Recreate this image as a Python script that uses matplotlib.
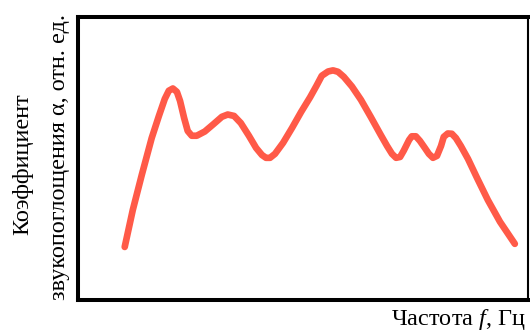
import matplotlib
matplotlib.use("Agg")
import matplotlib.pyplot as plt

plt.rcParams['font.family'] = ['Liberation Serif', 'DejaVu Serif']
plt.rcParams['mathtext.fontset'] = 'custom'
plt.rcParams['mathtext.rm'] = 'Liberation Serif'
plt.rcParams['mathtext.it'] = 'Liberation Serif:italic'

# curve (arbitrary units, 0..100 on both axes)
freq = [10.4, 12.2, 14.2, 16.4, 18.0, 19.3, 20.2, 21.1, 22.0, 22.7, 23.6,
        24.4, 25.3, 26.4, 28.2, 30.2, 32.0, 33.3, 34.7, 36.2, 38.0, 39.6,
        40.9, 41.8, 42.7, 43.8, 45.6, 47.6, 49.6, 51.6, 53.0, 54.2, 55.6,
        56.7, 57.8, 59.1, 60.9, 62.9, 65.1, 67.3, 68.7, 69.8, 70.7, 71.6,
        72.4, 73.6, 74.2, 75.1, 76.0, 77.1, 78.0, 78.9, 79.8, 80.7, 81.3,
        82.2, 83.1, 84.0, 85.1, 86.7, 88.7, 91.1, 93.8, 97.1]
alpha = [18.7, 31.8, 44.2, 57.2, 65.0, 71.0, 73.9, 74.7, 73.5, 70.3, 64.3,
         59.7, 58.0, 58.0, 59.5, 62.2, 64.7, 65.5, 65.0, 62.5, 58.0, 53.7,
         51.2, 50.2, 50.2, 51.6, 55.5, 60.8, 66.4, 71.6, 75.6, 79.2, 80.7,
         81.1, 80.6, 78.8, 75.4, 70.7, 64.6, 58.3, 54.4, 51.6, 50.2, 50.5,
         52.7, 56.5, 57.8, 57.8, 56.2, 53.7, 51.6, 50.2, 50.9, 54.4, 57.6,
         58.8, 58.7, 57.2, 54.4, 49.8, 43.1, 35.3, 27.6, 19.8]

fig = plt.figure(figsize=(5.30, 3.31), dpi=100)
ax = fig.add_axes([0.147, 0.094, 0.849, 0.855])

ax.plot(freq, alpha, color='#ff5a48', linewidth=4.8,
        solid_capstyle='round', solid_joinstyle='round')

ax.set_xlim(0, 100)
ax.set_ylim(0, 100)
ax.set_xticks([])
ax.set_yticks([])
for side in ['left', 'top', 'bottom']:
    ax.spines[side].set_linewidth(2.9)
ax.spines['right'].set_linewidth(1.5)

fig.text(23 / 530, 1 - 164 / 331, 'Коэффициент', rotation=90,
         ha='center', va='center', fontsize=17.5)
fig.text(60 / 530, 1 - 157 / 331, 'звукопоглощения α, отн. ед.', rotation=90,
         ha='center', va='center', fontsize=17.5)
fig.text(526 / 530, 1 - 320 / 331, 'Частота $f$, Гц',
         ha='right', va='center', fontsize=17.5)

fig.savefig('out.png', dpi=100)
